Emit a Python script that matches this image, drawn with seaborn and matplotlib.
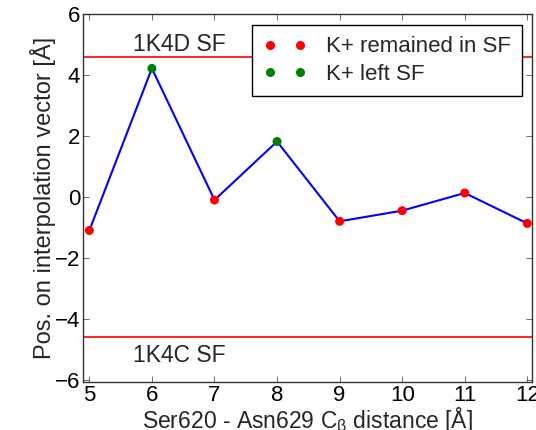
import numpy as np
import pandas as pd
import matplotlib
matplotlib.use("Agg")
import matplotlib.pyplot as plt
import seaborn as sns

# data
distance = [5, 6, 7, 8, 9, 10, 11, 12]
position = [-1.1, 4.22, -0.1, 1.82, -0.8, -0.45, 0.13, -0.87]
state = ["K+ remained in SF", "K+ left SF", "K+ remained in SF", "K+ left SF",
         "K+ remained in SF", "K+ remained in SF", "K+ remained in SF", "K+ remained in SF"]
sf_open = 4.6    # 1K4D SF
sf_closed = -4.6  # 1K4C SF

df = pd.DataFrame({"distance": distance, "position": position, "state": state})

sns.set_style("white")
plt.rcParams["font.family"] = ["Liberation Sans", "DejaVu Sans"]
plt.rcParams["mathtext.fontset"] = "custom"
plt.rcParams["mathtext.rm"] = "Liberation Sans"
plt.rcParams["mathtext.it"] = "Liberation Sans:italic"
plt.rcParams["xtick.direction"] = "in"
plt.rcParams["ytick.direction"] = "in"

fig, ax = plt.subplots(figsize=(5.36, 4.3), dpi=100)
fig.subplots_adjust(left=0.155, right=0.992, top=0.967, bottom=0.112)

ax.axhline(sf_open, color="red", lw=1.2, zorder=1)
ax.axhline(sf_closed, color="red", lw=1.2, zorder=1)

sns.lineplot(data=df, x="distance", y="position", color="blue", lw=1.5,
             ax=ax, zorder=2)
sns.scatterplot(data=df, x="distance", y="position", hue="state",
                palette={"K+ remained in SF": "red", "K+ left SF": "green"},
                hue_order=["K+ remained in SF", "K+ left SF"],
                s=42, edgecolor="none", ax=ax, zorder=3)

ax.text(5.7, 5.0, "1K4D SF", fontsize=16.5, va="center")
ax.text(5.7, -5.22, "1K4C SF", fontsize=16.5, va="center")

ax.set_xlim(4.9, 12.07)
ax.set_ylim(-6.07, 6.0)
ax.set_xticks(range(5, 13))
ax.set_yticks([-6, -4, -2, 0, 2, 4, 6])
ax.tick_params(labelsize=16, length=4, width=0.6, top=True, right=True,
               left=True, bottom=True, pad=2, colors="#555555", labelcolor="black")
for sp in ax.spines.values():
    sp.set_color("#333333")
    sp.set_linewidth(1.0)

ax.set_xlabel(r"Ser620 - Asn629 C$_\mathrm{\beta}$ distance [Å]", fontsize=16.5, labelpad=0)
ax.set_ylabel("Pos. on interpolation vector [Å]", fontsize=17, labelpad=-1)

leg = ax.legend(loc="upper right", fontsize=16, frameon=True, fancybox=False,
                numpoints=2, scatterpoints=2, borderaxespad=0,
                handletextpad=0.85, labelspacing=0.3, handlelength=1.95,
                borderpad=0.5, bbox_to_anchor=(0.978, 0.970))
leg.get_frame().set_edgecolor("black")
leg.get_frame().set_linewidth(1.0)
leg.get_frame().set_alpha(1)

fig.savefig("out.png", dpi=100)
